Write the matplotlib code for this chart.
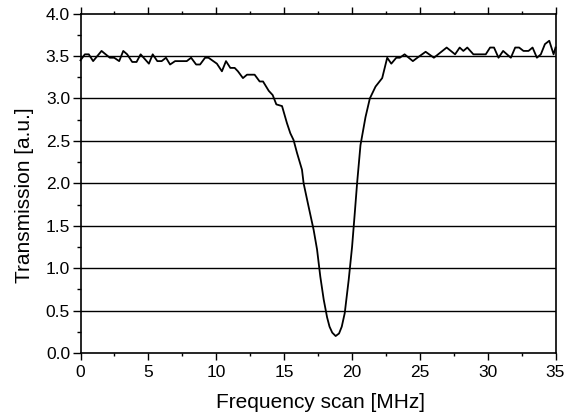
import matplotlib
matplotlib.use("Agg")
import matplotlib.pyplot as plt
from matplotlib.ticker import MultipleLocator

plt.rcParams['font.family'] = ['Liberation Sans', 'DejaVu Sans']

freq = [0.00, 0.32, 0.61, 0.93, 1.55, 2.16, 2.48, 2.85, 3.15, 3.44, 3.81, 4.13,
        4.43, 5.04, 5.32, 5.66, 5.98, 6.30, 6.60, 6.97, 7.83, 8.15, 8.52, 8.81,
        9.18, 9.43, 10.05, 10.42, 10.72, 11.04, 11.36, 11.60, 11.97, 12.27, 12.83,
        13.20, 13.45, 13.87, 14.16, 14.43, 14.85, 15.21, 15.46, 15.70, 15.95,
        16.32, 16.44, 16.80, 17.18, 17.43, 17.67, 17.92, 18.17, 18.35, 18.55,
        18.80, 19.05, 19.25, 19.47, 19.76, 20.01, 20.21, 20.38, 20.63, 21.00,
        21.32, 21.74, 22.23, 22.60, 22.90, 23.27, 23.53, 23.88, 24.49, 24.82,
        25.43, 26.04, 26.98, 27.60, 27.94, 28.21, 28.50, 28.95, 29.86, 30.18,
        30.47, 30.80, 31.14, 31.71, 32.03, 32.32, 32.64, 33.01, 33.31, 33.63,
        33.92, 34.22, 34.54, 34.86, 35.00]
transmission = [3.45, 3.52, 3.52, 3.44, 3.56, 3.48, 3.48, 3.44, 3.56, 3.52, 3.43, 3.43,
                3.52, 3.41, 3.52, 3.44, 3.44, 3.48, 3.40, 3.44, 3.44, 3.48, 3.40, 3.40,
                3.48, 3.48, 3.41, 3.32, 3.44, 3.36, 3.36, 3.32, 3.24, 3.28, 3.28,
                3.20, 3.20, 3.09, 3.04, 2.93, 2.91, 2.71, 2.59, 2.51, 2.36,
                2.16, 2.00, 1.73, 1.45, 1.22, 0.90, 0.63, 0.42, 0.31, 0.24,
                0.20, 0.23, 0.31, 0.47, 0.86, 1.25, 1.65, 2.00, 2.45, 2.78,
                3.00, 3.14, 3.24, 3.48, 3.41, 3.48, 3.48, 3.52, 3.44, 3.48,
                3.55, 3.48, 3.60, 3.52, 3.60, 3.56, 3.60, 3.52, 3.52, 3.60,
                3.60, 3.48, 3.56, 3.48, 3.60, 3.60, 3.56, 3.56, 3.60, 3.48,
                3.52, 3.64, 3.68, 3.52, 3.60]

grid_levels = [0.5, 1.0, 1.5, 2.0, 2.5, 3.0, 3.5]

W, H = 569, 417
fig = plt.figure(figsize=(W / 100, H / 100), dpi=100)
ax = fig.add_axes([80.5 / W, 1 - 353 / H, 475 / W, 339.4 / H])

for g in grid_levels:
    ax.axhline(g, color='black', lw=1.0, zorder=1)

ax.plot(freq, transmission, color='black', lw=1.3, zorder=3, clip_on=False)

ax.set_xlim(0, 35)
ax.set_ylim(0, 4.0)
ax.xaxis.set_major_locator(MultipleLocator(5))
ax.xaxis.set_minor_locator(MultipleLocator(2.5))
ax.yaxis.set_major_locator(MultipleLocator(0.5))
ax.yaxis.set_minor_locator(MultipleLocator(0.25))
ax.yaxis.set_major_formatter(matplotlib.ticker.FormatStrFormatter('%.1f'))

ax.tick_params(axis='x', which='both', direction='out', top=True, bottom=True,
               labeltop=False, labelsize=12.5, pad=3.5, width=1.0, color='black')
ax.tick_params(axis='x', which='major', length=5)
ax.tick_params(axis='x', which='minor', length=2.5)
ax.tick_params(axis='y', which='both', direction='out', left=True, right=False,
               labelsize=12.5, pad=2.0, width=1.0, color='black')
ax.tick_params(axis='y', which='major', length=5.5)
ax.tick_params(axis='y', which='minor', length=3)

for s in ax.spines.values():
    s.set_linewidth(1.2)
    s.set_color('black')

ax.set_xlabel('Frequency scan [MHz]', fontsize=15)
ax.set_ylabel('Transmission [a.u.]', fontsize=15)
ax.xaxis.set_label_coords(0.505, -0.118)
ax.yaxis.set_label_coords(-0.098, 0.464)

fig.savefig('out.png', dpi=100)
